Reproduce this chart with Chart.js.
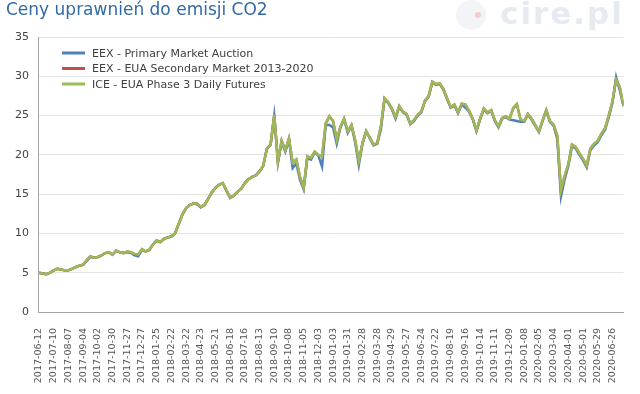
<!DOCTYPE html>
<html>
<head>
<meta charset="utf-8">
<script src="https://cdn.jsdelivr.net/npm/chart.js@4/dist/chart.umd.min.js"></script>
<style>
    html, body { margin: 0; padding: 0; background: #fff; }
    #wrap { position: relative; width: 640px; height: 394px; overflow: hidden; }
    #co2Chart { position: absolute; left: 0; top: 0; }
    #title { position: absolute; left: 6px; top: -1px; font: 17px 'DejaVu Sans'; color: #336aa5; white-space: nowrap; }
    #mark { position: absolute; left: 500px; top: -5px; font: bold 31px 'DejaVu Sans'; letter-spacing: 2px; color: #e6eaf1; }
    #markDot { position: absolute; left: 456px; top: 0px; width: 30px; height: 30px; border-radius: 50%; background: #f2f4f7; }
    #markDot span { position: absolute; left: 19px; top: 12px; width: 6px; height: 6px; border-radius: 50%; background: #f4cccc; }
</style>
</head>
<body>
<div id="wrap">
    <canvas id="co2Chart" width="640" height="394"></canvas>
    <div id="title">Ceny uprawnień do emisji CO2</div>
    <div id="markDot"><span></span></div>
    <div id="mark">cire.pl</div>
</div>
<script>
// Etykiety osi X (co 20 sesji)
const tickDates = [
    '2017-06-12', '2017-07-10', '2017-08-07', '2017-09-04', '2017-10-02', '2017-10-30', '2017-11-27', '2017-12-27',
    '2018-01-25', '2018-02-22', '2018-03-22', '2018-04-23', '2018-05-21', '2018-06-18', '2018-07-16', '2018-08-13',
    '2018-09-10', '2018-10-08', '2018-11-05', '2018-12-03', '2019-01-03', '2019-01-31', '2019-02-28', '2019-03-28',
    '2019-04-29', '2019-05-27', '2019-06-24', '2019-07-22', '2019-08-19', '2019-09-16', '2019-10-14', '2019-11-11',
    '2019-12-09', '2020-01-08', '2020-02-05', '2020-03-04', '2020-04-01', '2020-05-01', '2020-05-29', '2020-06-26'
];
const sessionsPerLabel = 20;
const sessionsPerPoint = 5;   // odczyt co 5 sesji
const lastSession = 795;

const seriesNames = ['EEX - Primary Market Auction', 'EEX - EUA Secondary Market 2013-2020', 'ICE - EUA Phase 3 Daily Futures'];

const primaryAuction = [
    5.0, 4.9, 4.8, 5.0, 5.3, 5.5, 5.4, 5.3, 5.3, 5.5,
    5.7, 5.9, 6.0, 6.5, 7.0, 6.9, 7.0, 7.2, 7.5, 7.6,
    7.3, 7.8, 7.6, 7.5, 7.6, 7.5, 7.2, 7.1, 7.9, 7.7,
    7.9, 8.6, 9.1, 8.9, 9.3, 9.5, 9.6, 10.0, 11.2, 12.4,
    13.2, 13.6, 13.8, 13.7, 13.3, 13.6, 14.4, 15.2, 15.8, 16.2,
    16.4, 15.4, 14.5, 14.8, 15.3, 15.7, 16.4, 16.9, 17.2, 17.4,
    17.9, 18.6, 20.8, 21.3, 25.0, 19.0, 21.6, 20.4, 21.9, 18.3,
    18.9, 16.8, 15.6, 19.6, 19.4, 20.3, 19.9, 18.5, 23.8, 23.8,
    23.5, 21.4, 23.5, 24.5, 22.8, 23.7, 21.6, 18.7, 21.4, 23.0,
    22.1, 21.2, 21.4, 23.2, 27.1, 26.6, 25.8, 24.6, 26.1, 25.4,
    25.1, 23.9, 24.3, 25.0, 25.4, 26.8, 27.4, 29.2, 28.9, 29.0,
    28.3, 27.1, 26.0, 26.3, 25.3, 26.4, 26.0, 25.5, 24.5, 23.0,
    24.5, 25.8, 25.3, 25.6, 24.3, 23.5, 24.6, 24.8, 24.5, 24.4,
    24.3, 24.2, 24.2, 25.1, 24.5, 23.7, 22.9, 24.3, 25.6, 24.2,
    23.7, 22.0, 14.7, 16.9, 18.6, 21.1, 20.8, 20.0, 19.3, 18.4,
    20.6, 21.2, 21.6, 22.5, 23.2, 24.8, 26.6, 29.9, 28.2, 26.2
];

const secondaryMarket = [
    5.0, 4.9, 4.8, 5.0, 5.3, 5.5, 5.4, 5.3, 5.3, 5.5,
    5.7, 5.9, 6.0, 6.6, 7.1, 6.9, 7.0, 7.2, 7.5, 7.6,
    7.3, 7.8, 7.6, 7.5, 7.7, 7.6, 7.4, 7.3, 8.0, 7.7,
    7.9, 8.6, 9.1, 8.9, 9.3, 9.5, 9.6, 10.0, 11.2, 12.4,
    13.2, 13.6, 13.8, 13.8, 13.4, 13.6, 14.4, 15.2, 15.8, 16.2,
    16.4, 15.5, 14.6, 14.8, 15.3, 15.7, 16.4, 16.9, 17.2, 17.4,
    17.9, 18.6, 20.8, 21.3, 25.1, 19.1, 21.8, 20.6, 22.1, 19.0,
    19.4, 17.2, 15.8, 19.8, 19.6, 20.4, 20.0, 19.8, 24.0, 24.9,
    24.3, 21.9, 23.6, 24.6, 23.0, 23.8, 21.9, 19.2, 21.5, 23.0,
    22.2, 21.3, 21.5, 23.6, 27.2, 26.7, 25.9, 24.8, 26.2, 25.5,
    25.2, 24.0, 24.4, 25.1, 25.5, 26.9, 27.5, 29.3, 29.0, 29.1,
    28.4, 27.2, 26.1, 26.4, 25.4, 26.5, 26.4, 25.6, 24.6, 23.1,
    24.6, 25.9, 25.4, 25.7, 24.4, 23.6, 24.7, 24.9, 24.6, 25.9,
    26.4, 24.5, 24.3, 25.2, 24.6, 23.8, 23.0, 24.4, 25.7, 24.3,
    23.8, 22.4, 15.4, 17.3, 18.8, 21.3, 21.0, 20.2, 19.5, 18.6,
    20.8, 21.4, 21.8, 22.7, 23.4, 25.0, 26.8, 29.6, 28.6, 26.3
];

const iceFutures = [
    5.0, 4.9, 4.8, 5.0, 5.3, 5.5, 5.4, 5.3, 5.3, 5.5,
    5.7, 5.9, 6.05, 6.6, 7.1, 6.9, 7.0, 7.2, 7.5, 7.6,
    7.3, 7.8, 7.6, 7.5, 7.7, 7.6, 7.4, 7.3, 8.0, 7.7,
    7.9, 8.6, 9.1, 8.9, 9.3, 9.5, 9.6, 10.0, 11.2, 12.4,
    13.2, 13.6, 13.8, 13.8, 13.4, 13.6, 14.4, 15.2, 15.8, 16.2,
    16.4, 15.5, 14.6, 14.8, 15.3, 15.7, 16.4, 16.9, 17.2, 17.4,
    17.9, 18.6, 20.8, 21.3, 25.1, 19.1, 21.8, 20.6, 22.1, 19.0,
    19.4, 17.2, 15.8, 19.8, 19.6, 20.4, 20.0, 19.8, 24.0, 24.9,
    24.3, 21.9, 23.6, 24.6, 23.0, 23.8, 21.9, 19.2, 21.5, 23.0,
    22.2, 21.3, 21.5, 23.6, 27.2, 26.7, 25.9, 24.8, 26.2, 25.5,
    25.2, 24.0, 24.4, 25.1, 25.5, 26.9, 27.5, 29.3, 29.0, 29.1,
    28.4, 27.2, 26.1, 26.4, 25.4, 26.5, 26.4, 25.6, 24.6, 23.1,
    24.6, 25.9, 25.4, 25.7, 24.4, 23.6, 24.7, 24.9, 24.6, 26.0,
    26.5, 24.5, 24.3, 25.2, 24.6, 23.8, 23.0, 24.4, 25.7, 24.3,
    23.8, 22.5, 15.5, 17.4, 18.8, 21.3, 21.0, 20.2, 19.5, 18.6,
    20.8, 21.4, 21.8, 22.7, 23.4, 25.0, 26.8, 29.6, 28.6, 26.3
];

const seriesColors = ['#4f81bd', '#c0504d', '#9bbb59'];
const axisFont = { family: 'DejaVu Sans', size: 9.5 };

function toPoints(values) {
    return values.map((v, i) => ({ x: i * sessionsPerPoint, y: v }));
}

// legenda rysowana wewnątrz obszaru wykresu, lewy górny róg
const insideLegend = {
    id: 'insideLegend',
    afterDraw(chart) {
        const ctx = chart.ctx;
        const area = chart.chartArea;
        ctx.save();
        ctx.font = '11px "DejaVu Sans"';
        ctx.textBaseline = 'middle';
        chart.data.datasets.forEach((ds, i) => {
            const y = area.top + 16 + i * 15.5;
            ctx.strokeStyle = ds.borderColor;
            ctx.lineWidth = 3;
            ctx.beginPath();
            ctx.moveTo(area.left + 23, y);
            ctx.lineTo(area.left + 46, y);
            ctx.stroke();
            ctx.fillStyle = '#404040';
            ctx.fillText(ds.label, area.left + 53, y + 1);
        });
        ctx.restore();
    }
};

const ctx = document.getElementById('co2Chart').getContext('2d');
new Chart(ctx, {
    type: 'line',
    data: {
        datasets: [
            { label: seriesNames[0], data: toPoints(primaryAuction), borderColor: seriesColors[0], order: 2 },
            { label: seriesNames[1], data: toPoints(secondaryMarket), borderColor: seriesColors[1], order: 1 },
            { label: seriesNames[2], data: toPoints(iceFutures), borderColor: seriesColors[2], order: 0 }
        ]
    },
    options: {
        responsive: false,
        animation: false,
        layout: { padding: { left: 5, right: 8, top: 37, bottom: 3 } },
        elements: {
            line: { borderWidth: 2.5, tension: 0 },
            point: { radius: 0 }
        },
        plugins: {
            legend: { display: false },
            tooltip: { enabled: false }
        },
        scales: {
            x: {
                type: 'linear',
                min: 0,
                max: lastSession,
                grid: { display: false, drawTicks: false },
                border: { display: true, color: '#a6a6a6', width: 1 },
                afterFit: (scale) => { scale.height = 79; },
                ticks: {
                    stepSize: sessionsPerLabel,
                    autoSkip: false,
                    includeBounds: false,
                    minRotation: 90,
                    maxRotation: 90,
                    padding: 16,
                    color: '#555',
                    font: axisFont,
                    callback: (v) => tickDates[v / sessionsPerLabel] || ''
                }
            },
            y: {
                min: 0,
                max: 35,
                grid: { color: '#e3e3e3', drawTicks: false },
                border: { display: true, color: '#a6a6a6', width: 1 },
                ticks: { stepSize: 5, padding: 10, color: '#444', font: { family: 'DejaVu Sans', size: 11 } }
            }
        }
    },
    plugins: [insideLegend]
});
</script>
</body>
</html>
